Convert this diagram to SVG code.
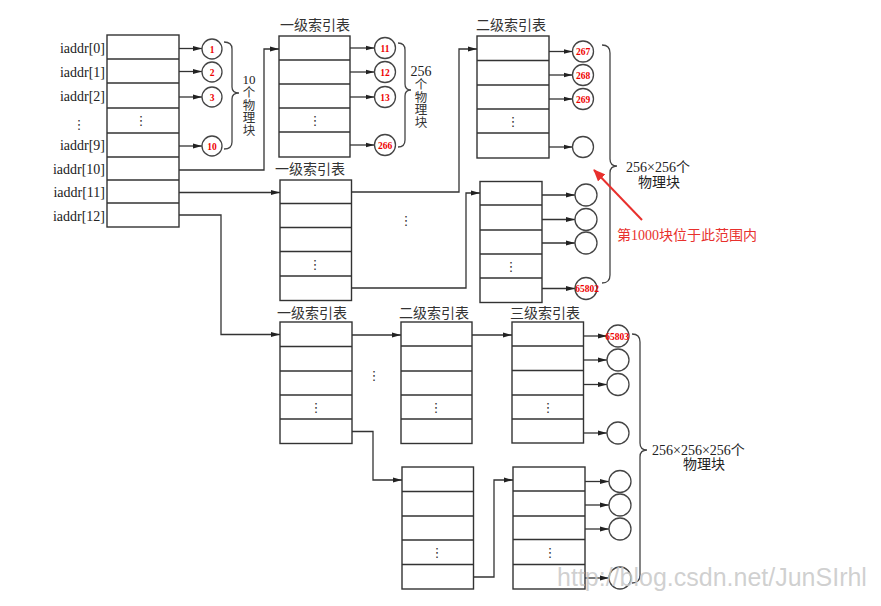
<svg xmlns="http://www.w3.org/2000/svg" width="881" height="606" viewBox="0 0 881 606">
<style>
.tbl{fill:#fff;stroke:#333;stroke-width:1.4}
.ln{stroke:#333;stroke-width:1.4}
.cir{fill:#fff;stroke:#444;stroke-width:1.3}
.con{fill:none;stroke:#333;stroke-width:1.3}
.arr{fill:none;stroke:#333;stroke-width:1.3;marker-end:url(#ah)}
.brace{fill:none;stroke:#444;stroke-width:1.3}
.lbl{font-family:"Liberation Serif","Noto Sans CJK SC",serif;font-size:14px;fill:#222}
.hdr{font-family:"Noto Sans CJK SC","Liberation Serif",serif;font-size:14px;fill:#333;text-anchor:middle}
.num{font-family:"Liberation Serif",serif;font-size:9.5px;font-weight:bold;fill:#e00;text-anchor:middle}
.dots{font-family:"DejaVu Sans",sans-serif;font-size:13px;fill:#333;text-anchor:middle}
.vt{font-family:"Noto Sans CJK SC","Liberation Serif",serif;font-size:12.5px;fill:#333;writing-mode:tb;glyph-orientation-vertical:0}
.red{font-family:"Liberation Serif","Noto Sans CJK SC",serif;font-size:14px;fill:#e8302d}
</style>
<defs>
<marker id="ah" markerUnits="userSpaceOnUse" markerWidth="9" markerHeight="6" refX="9" refY="3" orient="auto">
<path d="M0,0.5 L9,3 L0,5.5 z" fill="#222"/>
</marker>
<marker id="rah" markerUnits="userSpaceOnUse" markerWidth="12" markerHeight="10" refX="11" refY="5" orient="auto">
<path d="M0,0 L12,5 L0,10 z" fill="#e8302d"/>
</marker>
</defs>
<rect width="881" height="606" fill="#fff"/>

<!-- main inode table -->
<g id="inode">
<text class="lbl" x="105" y="53" text-anchor="end">iaddr[0]</text>
<text class="lbl" x="105" y="77" text-anchor="end">iaddr[1]</text>
<text class="lbl" x="105" y="101" text-anchor="end">iaddr[2]</text>
<text class="dots" x="79" y="129">⋮</text>
<text class="lbl" x="105" y="150" text-anchor="end">iaddr[9]</text>
<text class="lbl" x="105" y="174" text-anchor="end">iaddr[10]</text>
<text class="lbl" x="105" y="197" text-anchor="end">iaddr[11]</text>
<text class="lbl" x="105" y="221" text-anchor="end">iaddr[12]</text>
<rect class="tbl" x="107" y="35" width="72" height="192"/>
<path class="ln" d="M107,59H179M107,83H179M107,108H179M107,133H179M107,157H179M107,180H179M107,203H179"/>
<text class="dots" x="141" y="125">⋮</text>
</g>

<!-- top single indirect table -->
<g id="t1">
<text class="hdr" x="315" y="30">一级索引表</text>
<rect class="tbl" x="279" y="36" width="71" height="121"/>
<path class="ln" d="M279,60H350M279,84H350M279,108H350M279,132H350"/>
<text class="dots" x="315" y="125">⋮</text>
</g>

<!-- top double indirect, second level -->
<g id="t2">
<text class="hdr" x="511" y="30">二级索引表</text>
<rect class="tbl" x="477" y="36" width="72" height="122"/>
<path class="ln" d="M477,60.5H549M477,85H549M477,109H549M477,133H549"/>
<text class="dots" x="513" y="126">⋮</text>
</g>

<!-- middle double indirect, first level -->
<g id="m1">
<text class="hdr" x="310" y="174">一级索引表</text>
<rect class="tbl" x="280" y="180" width="71.5" height="120.5"/>
<path class="ln" d="M280,203.5H351.5M280,227.5H351.5M280,251.5H351.5M280,276H351.5"/>
<text class="dots" x="315" y="269">⋮</text>
</g>

<!-- middle double indirect, second level (lower) -->
<g id="l2">
<rect class="tbl" x="480" y="181.5" width="62" height="121"/>
<path class="ln" d="M480,205H542M480,230H542M480,254H542M480,278H542"/>
<text class="dots" x="511" y="271">⋮</text>
</g>

<!-- triple indirect tables -->
<g id="b1">
<text class="hdr" x="312" y="318">一级索引表</text>
<rect class="tbl" x="280" y="322" width="72" height="121.5"/>
<path class="ln" d="M280,346.5H352M280,371H352M280,395H352M280,419H352"/>
<text class="dots" x="316" y="412">⋮</text>
</g>
<g id="b2">
<text class="hdr" x="434" y="318">二级索引表</text>
<rect class="tbl" x="401" y="322" width="71" height="121.5"/>
<path class="ln" d="M401,346H472M401,371H472M401,395H472M401,419H472"/>
<text class="dots" x="436" y="412">⋮</text>
</g>
<g id="b3">
<text class="hdr" x="545" y="318">三级索引表</text>
<rect class="tbl" x="512" y="322" width="71.5" height="121"/>
<path class="ln" d="M512,346H583.5M512,370.5H583.5M512,395H583.5M512,419H583.5"/>
<text class="dots" x="548" y="412">⋮</text>
</g>
<g id="b4">
<rect class="tbl" x="402" y="467" width="71.5" height="122"/>
<path class="ln" d="M402,491.5H473.5M402,516H473.5M402,540H473.5M402,564.5H473.5"/>
<text class="dots" x="437" y="557">⋮</text>
</g>
<g id="b5">
<rect class="tbl" x="513" y="467" width="72" height="122"/>
<path class="ln" d="M513,491H585M513,516H585M513,539.5H585M513,564.5H585"/>
<text class="dots" x="550" y="557">⋮</text>
</g>

<!-- connectors -->
<g id="connectors">
<path class="arr" d="M179,48.5H202"/>
<path class="arr" d="M179,71.5H202"/>
<path class="arr" d="M179,97H202"/>
<path class="arr" d="M179,146H202"/>
<path class="arr" d="M179,170H264V49H279"/>
<path class="arr" d="M179,192.5H280"/>
<path class="arr" d="M179,215H221V334.5H280"/>
<path class="arr" d="M350,48H374.5"/>
<path class="arr" d="M350,72H374.5"/>
<path class="arr" d="M350,97H374.5"/>
<path class="arr" d="M350,145H374.5"/>
<path class="arr" d="M351.5,192H459V49H477"/>
<path class="arr" d="M351.5,288H466V193H480"/>
<path class="arr" d="M549,51.5H572.5"/>
<path class="arr" d="M549,75H572.5"/>
<path class="arr" d="M549,99H572.5"/>
<path class="arr" d="M549,147H572.5"/>
<path class="arr" d="M542,195H575"/>
<path class="arr" d="M542,219.5H575"/>
<path class="arr" d="M542,243H575"/>
<path class="arr" d="M542,288.5H575"/>
<path class="arr" d="M352,335H401"/>
<path class="arr" d="M472,335H512"/>
<path class="arr" d="M352,431.5H373V480H402"/>
<path class="arr" d="M473.5,577H494V480H513"/>
<path class="arr" d="M583.5,336H607"/>
<path class="arr" d="M583.5,360H607"/>
<path class="arr" d="M583.5,384.5H607"/>
<path class="arr" d="M583.5,433H607"/>
<path class="arr" d="M585,481.5H609"/>
<path class="arr" d="M585,505H609"/>
<path class="arr" d="M585,529H609"/>
<path class="arr" d="M585,578H609"/>
<text class="dots" x="406" y="225">⋮</text>
<text class="dots" x="374" y="380">⋮</text>
</g>

<!-- data block circles -->
<g id="c1"><circle class="cir" cx="212" cy="49" r="10"/><text class="num" x="212" y="52.5">1</text></g>
<g id="c2"><circle class="cir" cx="212" cy="72" r="10"/><text class="num" x="212" y="75.5">2</text></g>
<g id="c3"><circle class="cir" cx="212" cy="97" r="10"/><text class="num" x="212" y="100.5">3</text></g>
<g id="c10"><circle class="cir" cx="212" cy="146" r="10"/><text class="num" x="212" y="149.5">10</text></g>
<g id="c11"><circle class="cir" cx="385" cy="48" r="10.5"/><text class="num" x="385" y="51.5">11</text></g>
<g id="c12"><circle class="cir" cx="385" cy="72" r="10.5"/><text class="num" x="385" y="75.5">12</text></g>
<g id="c13"><circle class="cir" cx="385" cy="97" r="10.5"/><text class="num" x="385" y="100.5">13</text></g>
<g id="c266"><circle class="cir" cx="385" cy="145" r="10.5"/><text class="num" x="385" y="148.5">266</text></g>
<g id="c267"><circle class="cir" cx="583" cy="51.5" r="10.5"/><text class="num" x="583" y="55">267</text></g>
<g id="c268"><circle class="cir" cx="583" cy="75" r="10.5"/><text class="num" x="583" y="78.5">268</text></g>
<g id="c269"><circle class="cir" cx="583" cy="99" r="10.5"/><text class="num" x="583" y="102.5">269</text></g>
<g id="c2e"><circle class="cir" cx="583" cy="147" r="10.5"/></g>
<g id="cm1"><circle class="cir" cx="586" cy="195" r="11"/></g>
<g id="cm2"><circle class="cir" cx="586" cy="219.5" r="11"/></g>
<g id="cm3"><circle class="cir" cx="586" cy="243" r="11"/></g>
<g id="c65802"><circle class="cir" cx="586" cy="288.5" r="11"/><text class="num" x="587" y="292">65802</text></g>
<g id="c65803"><circle class="cir" cx="618" cy="336" r="11"/><text class="num" x="617" y="339.5">65803</text></g>
<g id="cb2"><circle class="cir" cx="618" cy="360" r="11"/></g>
<g id="cb3"><circle class="cir" cx="618" cy="384.5" r="11"/></g>
<g id="cb4"><circle class="cir" cx="618" cy="433" r="11"/></g>
<g id="cb5"><circle class="cir" cx="620" cy="481.5" r="11"/></g>
<g id="cb6"><circle class="cir" cx="620" cy="505" r="11"/></g>
<g id="cb7"><circle class="cir" cx="620" cy="529" r="11"/></g>
<g id="cb8"><circle class="cir" cx="620" cy="578" r="11"/></g>

<!-- braces and counts -->
<g id="brace10">
<path class="brace" d="M224,42 Q232,42 232,49 L232,87 Q232,93 239,93 Q232,93 232,99 L232,142 Q232,149 224,149"/>
<text class="lbl" x="249" y="84" text-anchor="middle" style="font-size:13px">10</text>
<text class="vt" x="249" y="86">个物理块</text>
</g>
<g id="brace256">
<path class="brace" d="M398,43 Q405,43 405,50 L405,84 Q405,90 411,90 Q405,90 405,96 L405,140 Q405,147 398,147"/>
<text class="lbl" x="421" y="76" text-anchor="middle">256</text>
<text class="vt" x="421" y="78">个物理块</text>
</g>
<g id="brace65536">
<path class="brace" d="M602,45 Q610,45 610,53 L610,159 Q610,166 617,166 Q610,166 610,173 L610,275 Q610,283 602,283"/>
<text class="lbl" x="626" y="172">256×256个</text>
<text class="lbl" x="659" y="187" text-anchor="middle">物理块</text>
</g>
<g id="brace16m">
<path class="brace" d="M632,334 Q640,334 640,342 L640,443 Q640,450 647,450 Q640,450 640,457 L640,575 Q640,583 632,583"/>
<text class="lbl" x="652" y="455">256×256×256个</text>
<text class="lbl" x="704" y="469" text-anchor="middle">物理块</text>
</g>

<!-- annotation -->
<g id="note">
<path d="M642,220 L594,170" fill="none" stroke="#e8302d" stroke-width="2" marker-end="url(#rah)"/>
<text class="red" x="617" y="240">第1000块位于此范围内</text>
</g>

<text x="557" y="586" font-family="Liberation Sans, sans-serif" font-size="25" fill="#c8c8c8" fill-opacity="0.85">http://blog.csdn.net/JunSIrhl</text>
</svg>
